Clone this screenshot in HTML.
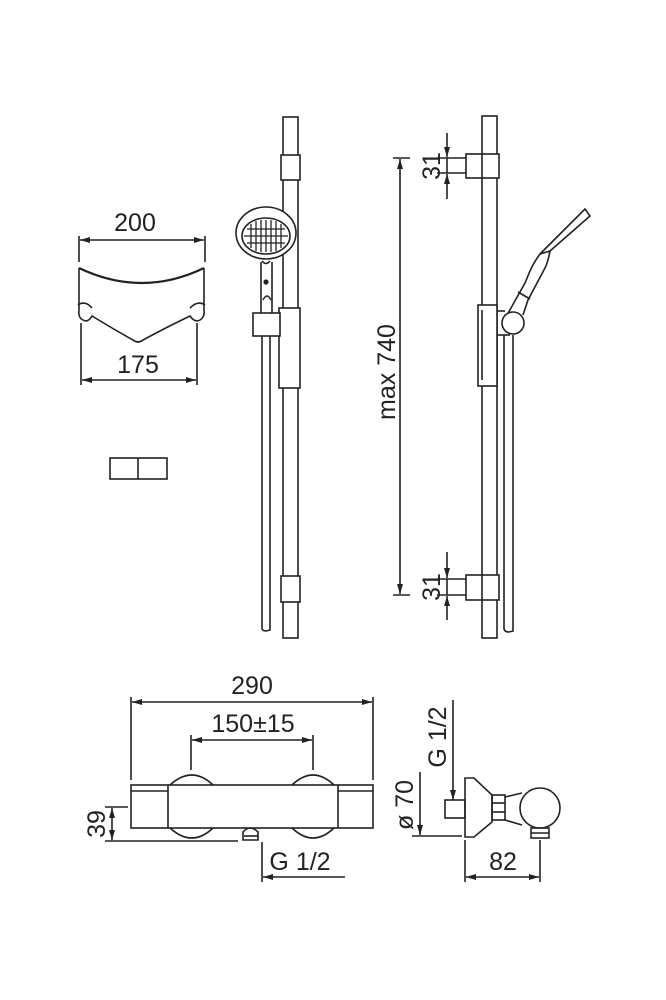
<!DOCTYPE html>
<html><head><meta charset="utf-8"><style>html,body{margin:0;padding:0;background:#fff}svg{display:block}text{font-family:"Liberation Sans",sans-serif;fill:#222}</style></head>
<body>
<svg width="666" height="1000" viewBox="0 0 666 1000" xmlns="http://www.w3.org/2000/svg">
<defs>
<marker id="a" viewBox="0 0 10 6" refX="10" refY="3" markerWidth="10" markerHeight="6" orient="auto-start-reverse" markerUnits="userSpaceOnUse"><path d="M0,0L10,3L0,6z" fill="#222"/></marker>
</defs>
<g stroke="#222" stroke-width="1.6" fill="none">
<!-- left bowl view -->
<line x1="79" y1="236" x2="79" y2="262"/><line x1="205" y1="236" x2="205" y2="262"/>
<line x1="80" y1="240" x2="204" y2="240" marker-start="url(#a)" marker-end="url(#a)"/>
<path d="M79,268 Q142,298 204,268" stroke-width="2.2"/>
<path d="M79,268 L79,310 Q78,318 83,320 Q88,323 92,316 Q115,330 133,340 Q138,344 143,340 Q165,328 190,316 Q195,323 200,320 Q205,317 204,310 L204,268"/>
<path d="M78,305 Q85,300 92,308 M205,305 Q198,300 190,308"/>
<line x1="81" y1="323" x2="81" y2="385"/><line x1="197" y1="323" x2="197" y2="385"/>
<line x1="82" y1="380" x2="196" y2="380" marker-start="url(#a)" marker-end="url(#a)"/>
<rect x="110" y="458" width="57" height="21"/><line x1="138" y1="458" x2="138" y2="479"/>
<!-- middle rail -->
<rect x="283" y="117" width="15" height="521"/>
<rect x="281" y="155" width="19" height="25" fill="#fff"/>
<rect x="281" y="576" width="19" height="26" fill="#fff"/>
<rect x="279" y="308" width="21" height="80" fill="#fff"/>
<rect x="253" y="313" width="27" height="23" fill="#fff"/>
<path d="M262,336 L262,628 Q262,631 266,631 L270,630 L270,336"/>
<path d="M261,262 L261,313 M272,262 L272,313"/>
<circle cx="266" cy="282" r="1.8" fill="#222"/>
<path d="M263,300 Q267,292 271,300"/>
<ellipse cx="266" cy="233" rx="30" ry="26" fill="#fff"/>
<ellipse cx="266" cy="236" rx="24" ry="18"/>
<path d="M262,261 Q266,266 270,261"/>
</g>
<g stroke="#222" stroke-width="1.3">
<line x1="244" y1="236" x2="288" y2="236"/><line x1="247" y1="229" x2="285" y2="229"/><line x1="247" y1="243" x2="285" y2="243"/>
<line x1="266" y1="220" x2="266" y2="252"/><line x1="256" y1="221" x2="256" y2="251"/><line x1="276" y1="221" x2="276" y2="251"/><line x1="251" y1="224" x2="251" y2="248"/><line x1="281" y1="224" x2="281" y2="248"/><line x1="261" y1="220" x2="261" y2="252"/><line x1="271" y1="220" x2="271" y2="252"/>
</g>
<g stroke="#222" stroke-width="1.6" fill="none">
<!-- right rail -->
<rect x="482" y="116" width="15" height="522"/>
<rect x="466" y="154" width="33" height="24" fill="#fff"/><line x1="482" y1="154" x2="482" y2="178"/>
<rect x="466" y="575" width="33" height="25" fill="#fff"/><line x1="482" y1="575" x2="482" y2="600"/>
<rect x="478" y="305" width="19" height="81" fill="#fff"/><line x1="482" y1="310" x2="482" y2="380"/>
<path d="M504,335 L504,628 Q504,632 509,632 L513,631 L513,335"/>
<line x1="497" y1="311" x2="505" y2="311"/><line x1="497" y1="335" x2="510" y2="335"/>
<path d="M507,315 L525,283 L530,271 Q534,262 540,254 L550,251 Q548,262 545,268 L528,300 L523,315"/>
<path d="M540,254 L585,209 L590,216 L550,251"/>
<line x1="518" y1="292" x2="530" y2="299"/>
<circle cx="513" cy="323" r="11" fill="#fff"/>
<!-- max 740 -->
<line x1="393" y1="158" x2="410" y2="158"/><line x1="393" y1="595" x2="410" y2="595"/>
<line x1="400" y1="159" x2="400" y2="594" marker-start="url(#a)" marker-end="url(#a)"/>
<line x1="437" y1="158" x2="466" y2="158"/><line x1="437" y1="173" x2="466" y2="173"/>
<line x1="447" y1="133" x2="447" y2="157" marker-end="url(#a)"/><line x1="447" y1="174" x2="447" y2="199" marker-start="url(#a)"/>
<line x1="447" y1="158" x2="447" y2="173"/>
<line x1="437" y1="579" x2="466" y2="579"/><line x1="437" y1="595" x2="466" y2="595"/>
<line x1="447" y1="552" x2="447" y2="578" marker-end="url(#a)"/><line x1="447" y1="596" x2="447" y2="620" marker-start="url(#a)"/>
<line x1="447" y1="579" x2="447" y2="595"/>
<!-- bottom mixer -->
<line x1="131" y1="697" x2="131" y2="780"/><line x1="373" y1="697" x2="373" y2="780"/>
<line x1="132" y1="702" x2="372" y2="702" marker-start="url(#a)" marker-end="url(#a)"/>
<line x1="191" y1="735" x2="191" y2="770"/><line x1="313" y1="735" x2="313" y2="770"/>
<line x1="192" y1="740" x2="312" y2="740" marker-start="url(#a)" marker-end="url(#a)"/>
<path d="M170,785 Q192,765 213,785 M292,785 Q313,765 334,785"/>
<path d="M170,828 Q192,848 213,828 M292,828 Q313,848 334,828"/>
<rect x="131" y="785" width="242" height="43" fill="none"/>
<line x1="168" y1="785" x2="168" y2="828"/><line x1="338" y1="785" x2="338" y2="828"/>
<line x1="131" y1="791" x2="168" y2="791"/><line x1="338" y1="791" x2="373" y2="791"/>
<path d="M243,832 Q250,824 258,832 L258,840 L243,840 Z"/>
<line x1="244" y1="836" x2="258" y2="836"/>
<line x1="105" y1="807" x2="128" y2="807"/><line x1="105" y1="841" x2="238" y2="841"/>
<line x1="112" y1="808" x2="112" y2="840" marker-start="url(#a)" marker-end="url(#a)"/>
<line x1="262" y1="842" x2="262" y2="882"/>
<line x1="263" y1="877" x2="345" y2="877" marker-start="url(#a)"/>
<!-- side view -->
<line x1="453" y1="700" x2="453" y2="800" marker-end="url(#a)"/>
<rect x="445" y="800" width="20" height="18"/>
<path d="M465,778 L474,778 L492,795 L492,822 L474,837 L465,837 Z"/>
<rect x="492" y="795" width="13" height="25"/><line x1="492" y1="803" x2="505" y2="803"/><line x1="492" y1="812" x2="505" y2="812"/>
<path d="M505,797 L522,793 M505,820 L522,825"/>
<circle cx="540" cy="808" r="20" fill="#fff"/>
<rect x="531" y="828" width="18" height="10"/><line x1="531" y1="833" x2="549" y2="833"/>
<line x1="412" y1="836" x2="462" y2="836"/>
<line x1="420" y1="772" x2="420" y2="835" marker-end="url(#a)"/>
<line x1="465" y1="840" x2="465" y2="882"/><line x1="540" y1="840" x2="540" y2="882"/>
<line x1="466" y1="877" x2="539" y2="877" marker-start="url(#a)" marker-end="url(#a)"/>
</g>
<g font-size="25">
<text x="135" y="231" text-anchor="middle">200</text>
<text x="138" y="373" text-anchor="middle">175</text>
<text x="252" y="694" text-anchor="middle">290</text>
<text x="253" y="732" text-anchor="middle">150±15</text>
<text x="300" y="870" text-anchor="middle">G 1/2</text>
<text x="503" y="870" text-anchor="middle">82</text>
<text transform="translate(395,372) rotate(-90)" text-anchor="middle">max 740</text>
<text transform="translate(440,166) rotate(-90)" text-anchor="middle">31</text>
<text transform="translate(440,587) rotate(-90)" text-anchor="middle">31</text>
<text transform="translate(105,824) rotate(-90)" text-anchor="middle">39</text>
<text transform="translate(413,805) rotate(-90)" text-anchor="middle">ø 70</text>
<text transform="translate(446,737) rotate(-90)" text-anchor="middle">G 1/2</text>
</g>
</svg>
</body></html>
